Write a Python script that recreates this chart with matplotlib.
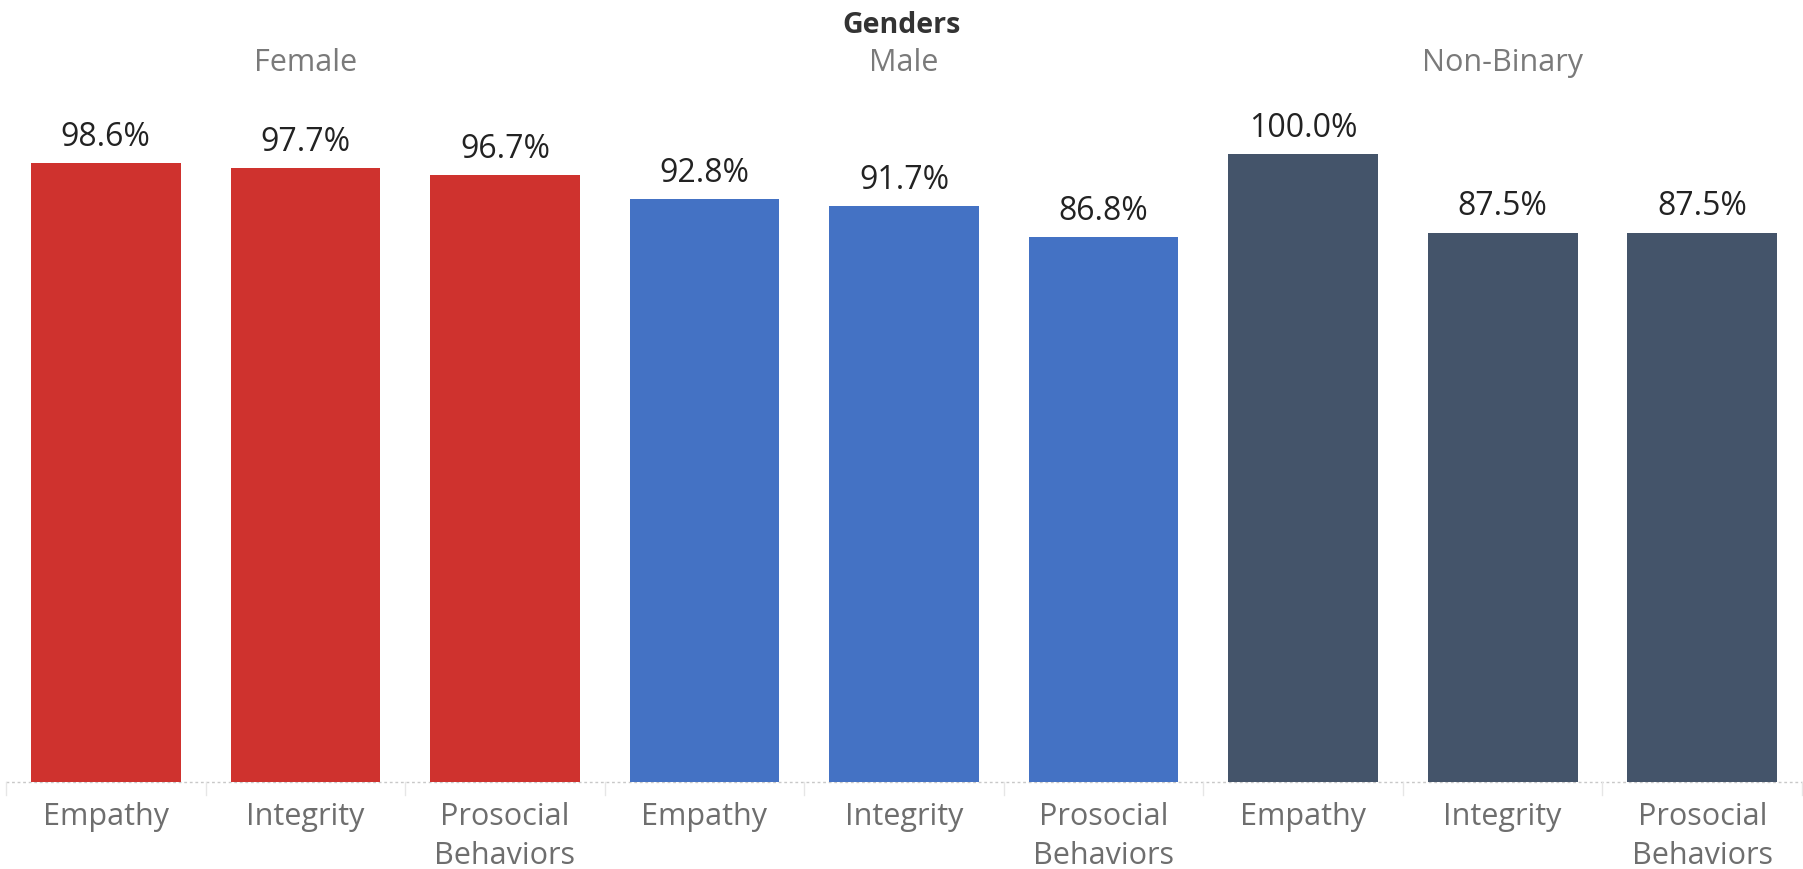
import matplotlib.pyplot as plt
from matplotlib.transforms import blended_transform_factory

plt.rcParams['font.family'] = ['Open Sans', 'DejaVu Sans']

genders = ["Female", "Male", "Non-Binary"]
traits = ["Empathy", "Integrity", "Prosocial\nBehaviors"]
female = [98.6, 97.7, 96.7]
male = [92.8, 91.7, 86.8]
non_binary = [100.0, 87.5, 87.5]
colors = ["#cf322e", "#4472c4", "#44546a"]

W, H = 1803, 870
fig = plt.figure(figsize=(W / 100, H / 100), dpi=100)

# axes spans the baseline (y=783px) up to the 100% mark (y=155px)
left, right = 6, 1802
bottom, top = 783, 155
ax = fig.add_axes([left / W, 1 - bottom / H, (right - left) / W, (bottom - top) / H])
ax.set_xlim(-0.5, 8.5)
ax.set_ylim(0, 100)
ax.axis("off")

series = [female, male, non_binary]
pos = 0
for g, (vals, col) in enumerate(zip(series, colors)):
    for v in vals:
        ax.bar(pos, v, width=0.75, color=col, zorder=2)
        ax.annotate(f"{v:.1f}%", (pos, v), xytext=(0, 13), textcoords="offset points",
                    ha="center", va="baseline", fontsize=23, color="#222222")
        pos += 1

# dotted baseline and cell dividers
ax.plot([-0.5, 8.5], [0, 0], color="#c8c8c8", lw=1, ls=(0, (2, 2)), clip_on=False, zorder=1)
trans_px = blended_transform_factory(ax.transData, fig.transFigure)
for b in range(0, 10):
    ax.plot([b - 0.5, b - 0.5], [1 - bottom / H, 1 - (bottom + 13) / H], color="#e6e6e6",
            lw=1, transform=trans_px, clip_on=False)

# category labels, one line at a time
for i in range(9):
    lines = traits[i % 3].split("\n")
    for k, line in enumerate(lines):
        ax.text(i, 1 - (825 + 39 * k) / H, line, transform=trans_px, ha="center",
                va="baseline", fontsize=22, color="#6e6e6e")

# gender headers
for g, name in enumerate(genders):
    ax.text(g * 3 + 1, 1 - 71 / H, name, transform=trans_px, ha="center",
            va="baseline", fontsize=22, color="#7a7a7a")

fig.text(0.5, 1 - 33 / H, "Genders", ha="center", va="baseline", fontsize=20.5,
         fontweight="bold", color="#333333")

fig.savefig("out.png", dpi=100)
